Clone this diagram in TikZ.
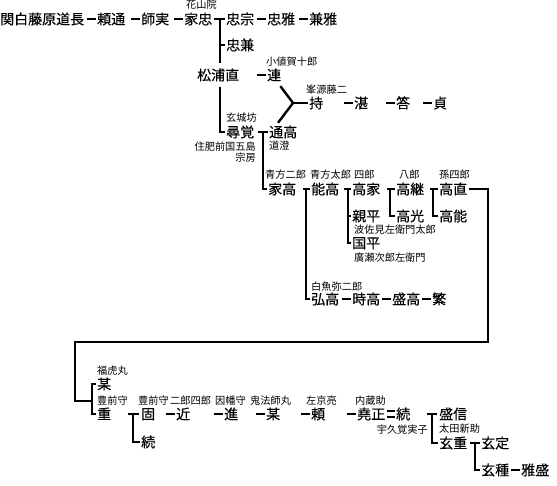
\documentclass[tikz,border=0pt]{standalone}
\usepackage{fontspec}
\setmainfont{Noto Sans CJK JP}
\newfontfamily\jpb{Noto Sans CJK JP}[FakeBold=0.3]
\newfontfamily\jpr{Noto Sans CJK JP}
\usetikzlibrary{calc,backgrounds}
\newcommand\gendash[1]{\draw[conn] ([xshift=-10pt]#1.west) -- ([xshift=-1pt]#1.west);}
\begin{document}
\begin{tikzpicture}[x=1pt,y=-1pt,
 nm/.style={anchor=west,inner sep=0pt,font=\jpb\fontsize{14}{14}\selectfont,text height=12.3pt,text depth=1.7pt},
 sm/.style={anchor=west,inner sep=0pt,font=\jpr\fontsize{10.2}{10.2}\selectfont,text height=9pt,text depth=1.2pt},
 sme/.style={sm,anchor=east},
 conn/.style={line width=2.4pt},
 eqline/.style={line width=1.4pt}]
\useasboundingbox (0,0) rectangle (557,486);
% ---- names
\node[nm] (A1) at (0,19) {関白藤原道長};
\node[nm] (A2) at (97,19) {頼通};
\node[nm] (A3) at (141,19) {師実};
\node[nm] (A4) at (184,19) {家忠};
\node[sm] (lA4) at (186,5) {花山院};
\node[nm] (A5) at (226,19) {忠宗};
\node[nm] (A6) at (267,19) {忠雅};
\node[nm] (A7) at (309,19) {兼雅};
\node[nm] (B) at (226,45) {忠兼};
\node[nm,fill=white,inner ysep=5pt] (C) at (197,75) {松浦直};
\node[nm] (D) at (267,75) {連};
\node[sm] (lD) at (266,62) {小値賀十郎};
\node[nm] (E) at (309,103) {持};
\node[sm] (lE) at (306,90) {峯源藤二};
\node[nm] (F) at (354,103) {湛};
\node[nm] (G) at (396,103) {答};
\node[nm] (H) at (433,103) {貞};
\node[nm] (I) at (226,132) {尋覚};
\node[sm] (lI) at (226,118) {玄城坊};
\node[sme] (lI2) at (256,147) {住肥前国五島};
\node[sme] (lI3) at (256,158) {宗房};
\node[nm] (J) at (269,132) {通高};
\node[sm] (lJ) at (269,146) {道澄};
\node[nm] (K) at (268,189) {家高};
\node[sm] (lK) at (265,175) {青方二郎};
\node[nm] (M) at (311,189) {能高};
\node[sm] (lM) at (310,175) {青方太郎};
\node[nm] (N) at (352,189) {高家};
\node[sm] (lN) at (354,175) {四郎};
\node[nm] (O) at (396,189) {高継};
\node[sm] (lO) at (399,175) {八郎};
\node[nm] (P) at (439,189) {高直};
\node[sm] (lP) at (439,175) {孫四郎};
\node[nm] (Q) at (352,216) {親平};
\node[sm] (lQ) at (354,230) {波佐見左衛門太郎};
\node[nm] (R) at (352,243) {国平};
\node[sm] (lR) at (354,258) {廣瀬次郎左衛門};
\node[nm] (S) at (396,216) {高光};
\node[nm] (T) at (439,216) {高能};
\node[nm] (U) at (311,299) {弘高};
\node[sm] (lU) at (311,287) {白魚弥二郎};
\node[nm] (V) at (352,299) {時高};
\node[nm] (W) at (392,299) {盛高};
\node[nm] (X) at (432,299) {繁};
\node[nm] (Y1) at (97,384) {某};
\node[sm] (lY1) at (97,371) {福虎丸};
\node[nm] (Y2) at (97,414) {重};
\node[sm] (lY2) at (97,401) {豊前守};
\node[nm] (Z1) at (141,414) {固};
\node[sm] (lZ1) at (138,401) {豊前守};
\node[nm] (Z2) at (141,442) {続};
\node[nm] (Z3) at (176,414) {近};
\node[sm] (lZ3) at (170,401) {二郎四郎};
\node[nm] (Z4) at (224,414) {進};
\node[sm] (lZ4) at (215,401) {因幡守};
\node[nm] (Z5) at (266,414) {某};
\node[sm] (lZ5) at (250,401) {鬼法師丸};
\node[nm] (Z6) at (311,414) {頼};
\node[sm] (lZ6) at (306,401) {左京亮};
\node[nm] (Z7) at (357,414) {堯正};
\node[sm] (lZ7) at (355,401) {内蔵助};
\node[nm] (Z8) at (396,414) {続};
\node[nm] (Z9) at (439,414) {盛信};
\node[nm] (Z10) at (439,443) {玄重};
\node[sm] (lZ10) at (439,429) {太田新助};
\node[sme] (lZ10b) at (428,430) {宇久覚実子};
\node[nm] (Z11) at (481,443) {玄定};
\node[nm] (Z12) at (481,470) {玄種};
\node[nm] (Z13) at (521,470) {雅盛};
\coordinate (yj) at (293,103);
\coordinate (r1) at (488,342);
\coordinate (r2) at (75,401);
% ---- connectors
\begin{scope}[on background layer]
\gendash{A2}\gendash{A3}\gendash{A4}\gendash{A6}\gendash{A7}
\gendash{D}\gendash{F}\gendash{G}\gendash{H}
\gendash{V}\gendash{W}\gendash{X}
\gendash{Z3}\gendash{Z4}\gendash{Z5}\gendash{Z6}\gendash{Z7}\gendash{Z13}
% 家忠 family
\draw[conn] ([xshift=-12pt]A5.west) -- ([xshift=-1pt]A5.west);
\draw[conn] ([xshift=-6pt]A5.west) |- ([xshift=-1pt]I.west);
\draw[conn] ([xshift=-6pt]B.west) -- ([xshift=-1pt]B.west);
% Y junction
\draw[conn] ($(D.south east)+(-1,4)$) -- (yj) -- ($(J.north west)+(9,-2)$);
\draw[conn] (yj) -- ([xshift=-1pt]E.west);
% 尋覚 - 通高
\draw[conn] ([xshift=-11pt]J.west) -- ([xshift=-1pt]J.west);
\draw[conn] ([xshift=-6pt]J.west) |- ([xshift=-1pt]K.west);
% 家高 - 能高
\draw[conn] ([xshift=-8pt]M.west) -- ([xshift=-1pt]M.west);
\draw[conn] ([xshift=-5pt]M.west) |- ([xshift=-1pt]U.west);
% 能高 - 高家
\draw[conn] ([xshift=-8pt]N.west) -- ([xshift=-1pt]N.west);
\draw[conn] ([xshift=-4pt]N.west) |- ([xshift=-1pt]R.west);
\draw[conn] ([xshift=-4pt]Q.west) -- ([xshift=-1pt]Q.west);
% 高家 - 高継
\draw[conn] ([xshift=-9pt]O.west) -- ([xshift=-1pt]O.west);
\draw[conn] ([xshift=-6pt]O.west) |- ([xshift=-1pt]S.west);
% 高継 - 高直
\draw[conn] ([xshift=-9pt]P.west) -- ([xshift=-1pt]P.west);
\draw[conn] ([xshift=-6pt]P.west) |- ([xshift=-1pt]T.west);
% long line
\draw[conn] ([xshift=2pt]P.east) -| (r1) -| (r2) -- ($(Y1.west |- r2)+(-5,0)$);
\draw[conn] ([xshift=-1pt]Y1.west) -| ([xshift=-5pt]Y2.west) -- ([xshift=-1pt]Y2.west);
% 重 - 固
\draw[conn] ([xshift=-13pt]Z1.west) -- ([xshift=-2pt]Z1.west);
\draw[conn] ([xshift=-8pt]Z1.west) |- ([xshift=-1pt]Z2.west);
% 堯正 = 続
\draw[eqline] ($(Z8.west)+(-9,-3)$) -- ($(Z8.west)+(-1,-3)$);
\draw[eqline] ($(Z8.west)+(-9,3)$) -- ($(Z8.west)+(-1,3)$);
% 続 - 盛信
\draw[conn] ([xshift=-12pt]Z9.west) -- ([xshift=-2pt]Z9.west);
\draw[conn] ([xshift=-7pt]Z9.west) |- ([xshift=-1pt]Z10.west);
% 玄重 - 玄定
\draw[conn] ([xshift=-11pt]Z11.west) -- ([xshift=-1pt]Z11.west);
\draw[conn] ([xshift=-6pt]Z11.west) |- ([xshift=-1pt]Z12.west);
\end{scope}
\end{tikzpicture}
\end{document}
